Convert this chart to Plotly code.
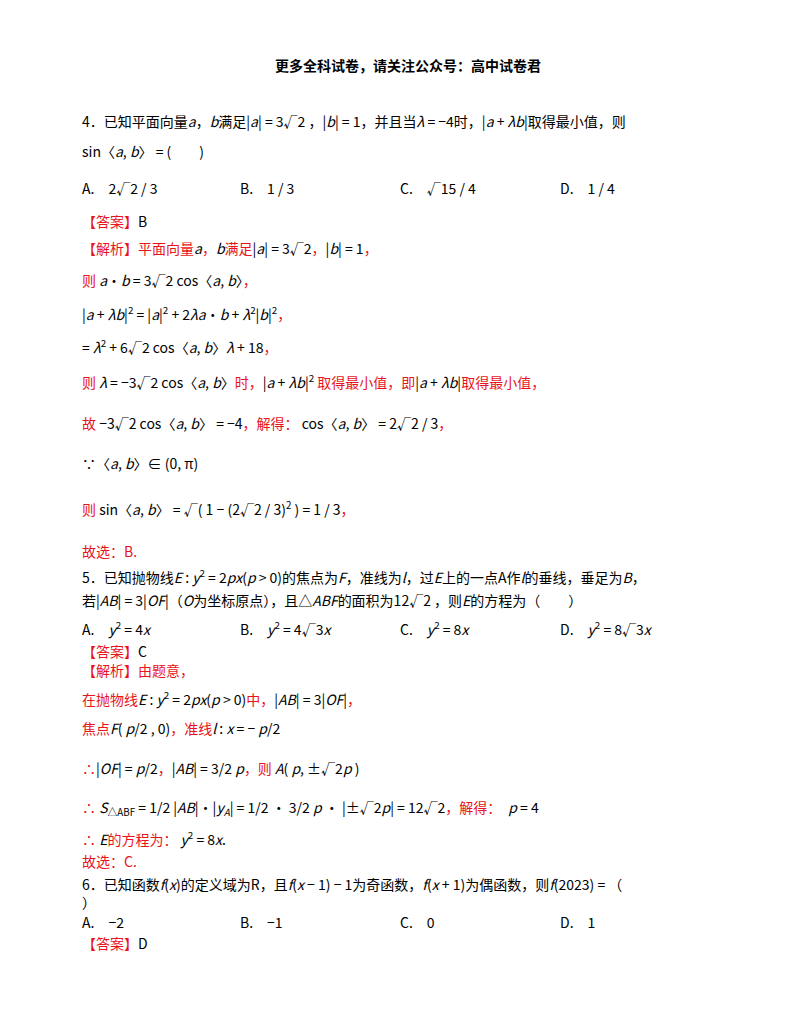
import plotly.graph_objects as go

RED = "#e8141b"


def r(s):
    return f"<span style='color:{RED}'>{s}</span>"


header = "更多全科试卷，请关注公众号：高中试卷君"

# each entry: list of text pieces laid out in columns (options) or one line
lines = [
    ["4．已知平面向量<i>a</i>，<i>b</i>满足|<i>a</i>| = 3√2 ，|<i>b</i>| = 1，并且当<i>λ</i> = −4时，|<i>a</i> + <i>λb</i>|取得最小值，则"],
    ["sin〈<i>a</i>, <i>b</i>〉 = (　　)"],
    ["A.　2√2 / 3", "B.　1 / 3", "C.　√15 / 4", "D.　1 / 4"],
    [r("【答案】") + "B"],
    [r("【解析】平面向量") + "<i>a</i>" + r("，") + "<i>b</i>" + r("满足") + "|<i>a</i>| = 3√2" + r("，") + "|<i>b</i>| = 1" + r("，")],
    [r("则 ") + "<i>a</i>·<i>b</i> = 3√2 cos〈<i>a</i>, <i>b</i>〉" + r("，")],
    ["|<i>a</i> + <i>λb</i>|<sup>2</sup> = |<i>a</i>|<sup>2</sup> + 2<i>λa</i>·<i>b</i> + <i>λ</i><sup>2</sup>|<i>b</i>|<sup>2</sup>" + r("，")],
    ["= <i>λ</i><sup>2</sup> + 6√2 cos〈<i>a</i>, <i>b</i>〉<i>λ</i> + 18" + r("，")],
    [r("则 ") + "<i>λ</i> = −3√2 cos〈<i>a</i>, <i>b</i>〉" + r("时，") + "|<i>a</i> + <i>λb</i>|<sup>2</sup>" + r(" 取得最小值，即") + "|<i>a</i> + <i>λb</i>|" + r("取得最小值，")],
    [r("故 ") + "−3√2 cos〈<i>a</i>, <i>b</i>〉 = −4" + r("，解得：") + " cos〈<i>a</i>, <i>b</i>〉 = 2√2 / 3" + r("，")],
    ["∵〈<i>a</i>, <i>b</i>〉∈ (0, π)"],
    [r("则 ") + "sin〈<i>a</i>, <i>b</i>〉 = √( 1 − (2√2 / 3)<sup>2</sup> ) = 1 / 3" + r("，")],
    [r("故选：B.")],
    ["5．已知抛物线<i>E</i> : <i>y</i><sup>2</sup> = 2<i>px</i>(<i>p</i> > 0)的焦点为<i>F</i>，准线为<i>l</i>，过<i>E</i>上的一点A作<i>l</i>的垂线，垂足为<i>B</i>，"],
    ["若|<i>AB</i>| = 3|<i>OF</i>|（<i>O</i>为坐标原点），且△<i>ABF</i>的面积为12√2 ，则<i>E</i>的方程为（　　）"],
    ["A.　<i>y</i><sup>2</sup> = 4<i>x</i>", "B.　<i>y</i><sup>2</sup> = 4√3<i>x</i>", "C.　<i>y</i><sup>2</sup> = 8<i>x</i>", "D.　<i>y</i><sup>2</sup> = 8√3<i>x</i>"],
    [r("【答案】") + "C"],
    [r("【解析】由题意，")],
    [r("在抛物线") + "<i>E</i> : <i>y</i><sup>2</sup> = 2<i>px</i>(<i>p</i> > 0)" + r("中，") + "|<i>AB</i>| = 3|<i>OF</i>|" + r("，")],
    [r("焦点") + "<i>F</i>( <i>p</i>/2 , 0)" + r("，准线") + "<i>l</i> : <i>x</i> = − <i>p</i>/2"],
    [r("∴") + "|<i>OF</i>| = <i>p</i>/2" + r("，") + "|<i>AB</i>| = 3/2 <i>p</i>" + r("，则 ") + "<i>A</i>( <i>p</i>, ±√2<i>p</i> )"],
    [r("∴ ") + "<i>S</i><sub>△ABF</sub> = 1/2 |<i>AB</i>|·|<i>y<sub>A</sub></i>| = 1/2 · 3/2 <i>p</i> · |±√2<i>p</i>| = 12√2" + r("，解得：") + "　<i>p</i> = 4"],
    [r("∴ ") + "<i>E</i>" + r("的方程为：") + " <i>y</i><sup>2</sup> = 8<i>x</i>."],
    [r("故选：C.")],
    ["6．已知函数<i>f</i>(<i>x</i>)的定义域为R，且<i>f</i>(<i>x</i> − 1) − 1为奇函数，<i>f</i>(<i>x</i> + 1)为偶函数，则<i>f</i>(2023) = （"],
    ["）"],
    ["A.　−2", "B.　−1", "C.　0", "D.　1"],
    [r("【答案】") + "D"],
]

line_y = [113, 143, 180, 213, 240, 272, 305, 338, 373, 415, 455, 500, 543,
          568, 592, 620, 643, 662, 690, 720, 760, 800, 830, 853, 876, 894, 914, 935]
col_x = [72, 230, 390, 550]

fig = go.Figure()
fig.add_annotation(x=400, y=57, text="<b>" + header + "</b>", showarrow=False,
                   xanchor="center", yanchor="middle", font=dict(size=14, color="black"))
for pieces, y in zip(lines, line_y):
    for i, t in enumerate(pieces):
        fig.add_annotation(x=col_x[i], y=y, text=t, showarrow=False,
                           xanchor="left", yanchor="middle",
                           font=dict(size=14, color="black"))

fig.update_layout(
    width=800, height=1035, margin=dict(l=0, r=0, t=0, b=0),
    plot_bgcolor="white", paper_bgcolor="white",
    font=dict(family="Noto Sans CJK SC, Liberation Serif", size=14),
    xaxis=dict(range=[0, 800], visible=False, fixedrange=True),
    yaxis=dict(range=[1035, 0], visible=False, fixedrange=True),
    showlegend=False,
)
fig.write_html("out.html")
